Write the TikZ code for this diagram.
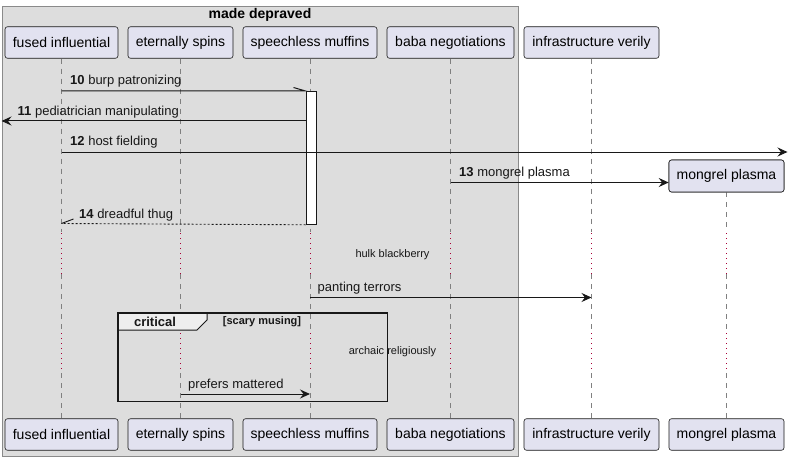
\documentclass[tikz,border=0pt]{standalone}
\usepackage{fontspec}
\setmainfont{Liberation Sans}
\usetikzlibrary{arrows.meta}
\definecolor{partfill}{HTML}{E2E2F0}
\definecolor{boxfill}{HTML}{DDDDDD}
\definecolor{linec}{HTML}{181818}
\definecolor{delayc}{HTML}{A80036}
\definecolor{tabfill}{HTML}{EEEEEE}
\definecolor{lifec}{HTML}{808080}
\definecolor{grpborder}{HTML}{8A8A8A}
\begin{document}
\begin{tikzpicture}[x=1pt,y=-1pt,
  part/.style={draw=linec, line width=0.6pt, fill=partfill, rounded corners=2.5pt,
    font=\fontsize{14}{16}\selectfont, inner sep=0pt, minimum height=31.5pt},
  lifeline/.style={draw=lifec, line width=0.8pt, dash pattern=on 5pt off 5pt},
  delayline/.style={draw=delayc, line width=0.9pt, dash pattern=on 1pt off 4pt},
  msgline/.style={draw=linec, line width=1pt},
  msg/.style={msgline, -{Stealth[length=10pt,width=9pt,inset=3.5pt]}},
  lbl/.style={font=\fontsize{13}{15}\selectfont, anchor=west, inner sep=0pt, text=linec},
  delaytxt/.style={font=\fontsize{11}{13}\selectfont, inner sep=0pt, text=linec},
]
\useasboundingbox (0,0) rectangle (788,460);
\fill[white] (0,0) rectangle (788,460);

% group box
\node (grp) [draw=grpborder, line width=1pt, fill=boxfill, anchor=north west,
  minimum width=516pt, minimum height=449pt, inner sep=0pt] at (2,6.5) {};
\node (grpT) [font=\bfseries\fontsize{14}{16}\selectfont, inner sep=0pt] at (260,15) {made depraved};

% participants (top)
\node[part, minimum width=113pt] (fiT) at (61.5,42.5) {fused influential};
\node[part, minimum width=105pt] (esT) at (180.5,42.5) {eternally spins};
\node[part, minimum width=134pt] (smT) at (310,42.5) {speechless muffins};
\node[part, minimum width=127pt] (bnT) at (450.5,42.5) {baba negotiations};
\node[part, minimum width=135pt] (ivT) at (591.5,42.5) {infrastructure verily};
\node[part, minimum width=115pt, minimum height=32pt] (mpT) at (726.5,176) {mongrel plasma};

% participants (bottom)
\node[part, minimum width=113pt] (fiB) at (61.5,434.5) {fused influential};
\node[part, minimum width=105pt] (esB) at (180.5,434.5) {eternally spins};
\node[part, minimum width=134pt] (smB) at (310,434.5) {speechless muffins};
\node[part, minimum width=127pt] (bnB) at (450.5,434.5) {baba negotiations};
\node[part, minimum width=135pt] (ivB) at (591.5,434.5) {infrastructure verily};
\node[part, minimum width=115pt] (mpB) at (726.5,434.5) {mongrel plasma};

% lifelines
\begin{scope}[on background layer/.style={}]
\foreach \n in {fi,es,sm,bn,iv,mp}{
  \draw[lifeline] (\n T.south) -- (\n T.south |- 0,232);
  \draw[delayline] (\n T.south |- 0,233) -- (\n T.south |- 0,274);
  \draw[lifeline] (\n T.south |- 0,274) -- (\n T.south |- 0,332);
  \draw[delayline] (\n T.south |- 0,333) -- (\n T.south |- 0,373);
  \draw[lifeline] (\n T.south |- 0,373) -- (\n B.north);
}
\end{scope}

% redraw boxes above lifelines
\node[part, minimum width=115pt, minimum height=32pt] at (mpT) {mongrel plasma};

% activation bar
\node (act) [draw=linec, line width=0.8pt, fill=white, anchor=north west, inner sep=0pt,
  minimum width=10pt, minimum height=133pt] at (305.5,91) {};

% message 10
\coordinate (m10s) at (fiT.south |- 0,91);
\draw[msgline] (m10s) -- (act.north west) -- ++(-12,-3.5);
\node[lbl] (l10) at (70,81) {\textbf{10} burp patronizing};

% message 11
\coordinate (m11s) at (act.west |- 0,121);
\coordinate (m11e) at (1.5,121);
\draw[msg] (m11s) -- (m11e);
\node[lbl] (l11) at (17.5,112.5) {\textbf{11} pediatrician manipulating};

% message 12
\coordinate (m12s) at (fiT.south |- 0,152);
\coordinate (m12e) at (787.5,152);
\draw[msg] (m12s) -- (m12e);
\node[lbl] (l12) at (70,142.5) {\textbf{12} host fielding};

% message 13
\coordinate (m13s) at (bnT.south |- 0,182.5);
\coordinate (m13e) at (mpT.west |- 0,182.5);
\draw[msg] (m13s) -- (m13e);
\node[lbl] (l13) at (459,173) {\textbf{13} mongrel plasma};

% message 14
\coordinate (m14e) at (fiT.south |- 0,223.5);
\draw[msgline, line width=0.9pt, dash pattern=on 2pt off 2pt] (act.south west) -- (m14e);
\draw[msgline, line width=0.9pt] (m14e) -- ++(12,-4.5);
\node[lbl] (l14) at (79,215) {\textbf{14} dreadful thug};

% delay 1
\node[delaytxt] (d1) at (392.5,254.5) {hulk blackberry};

% panting terrors
\coordinate (m15s) at (smT.south |- 0,297.5);
\coordinate (m15e) at (ivT.south |- 0,297.5);
\draw[msg] (m15s) -- (m15e);
\node[lbl] (l15) at (317.5,288) {panting terrors};

% critical group
\draw[draw=linec, fill=tabfill, line width=1pt] (118,313) -- (207,313) -- (207,320) -- (197,330) -- (118,330) -- cycle;
\draw[draw=linec, line width=1.6pt] (118,313) rectangle (387.5,401.5);
\node (crit) [font=\bfseries\fontsize{13}{15}\selectfont, inner sep=0pt, text=linec] at (155,322) {critical};
\node (critg) [font=\bfseries\fontsize{11}{13}\selectfont, inner sep=0pt, text=linec] at (262,322) {[scary musing]};

% delay 2
\node[delaytxt] (d2) at (392.5,352) {archaic religiously};

% prefers mattered
\coordinate (m16s) at (esT.south |- 0,394);
\coordinate (m16e) at (smT.south |- 0,394);
\draw[msg] (m16s) -- (m16e);
\node[lbl] (l16) at (188,385) {prefers mattered};
\end{tikzpicture}
\end{document}
